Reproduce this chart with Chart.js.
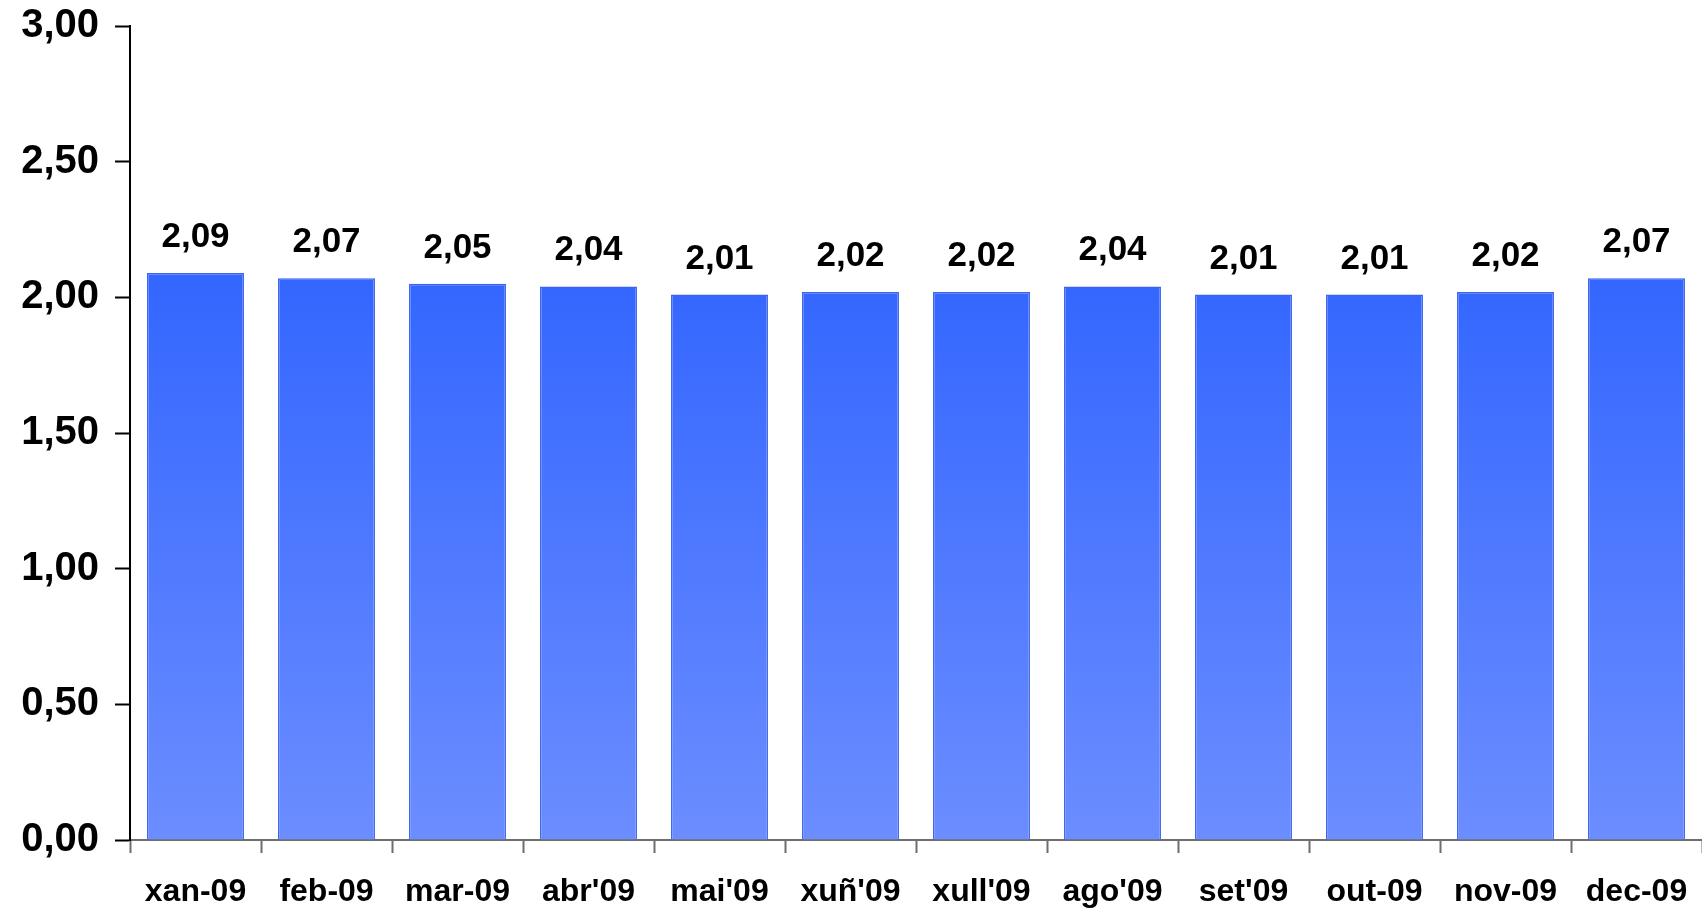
<!DOCTYPE html>
<html>
<head>
<meta charset="utf-8">
<script src="https://cdn.jsdelivr.net/npm/chart.js@4/dist/chart.umd.min.js"></script>
<style>
    html, body { margin: 0; padding: 0; background: #fff; }
    #wrap { width: 1702px; height: 910px; position: relative; }
</style>
</head>
<body>
<div id="wrap"><canvas id="chart" width="1702" height="910"></canvas></div>
<script>
// data
const months = ["xan-09", "feb-09", "mar-09", "abr'09", "mai'09", "xuñ'09", "xull'09", "ago'09", "set'09", "out-09", "nov-09", "dec-09"];
const values = [2.09, 2.07, 2.05, 2.04, 2.01, 2.02, 2.02, 2.04, 2.01, 2.01, 2.02, 2.07];
const yTicks = [0, 0.5, 1, 1.5, 2, 2.5, 3];

const fontFamily = "'Liberation Sans', Arial, sans-serif";

function fmt(v) {
    return v.toFixed(2).replace('.', ',');
}

// bar fill fades from strong blue at top to lighter blue at the base
function barFill(context) {
    const chart = context.chart;
    const area = chart.chartArea;
    if (!area) return '#4a75ff';
    const y = chart.scales.y;
    const g = chart.ctx.createLinearGradient(0, y.getPixelForValue(Math.max(...values)), 0, y.getPixelForValue(0));
    g.addColorStop(0, '#3366ff');
    g.addColorStop(1, '#6b8dff');
    return g;
}

// value labels above each bar
const valueLabels = {
    id: 'valueLabels',
    afterDatasetsDraw(chart) {
        const ctx = chart.ctx;
        const meta = chart.getDatasetMeta(0);
        ctx.save();
        ctx.font = "bold 35px " + fontFamily;
        ctx.fillStyle = '#000';
        ctx.textAlign = 'center';
        ctx.textBaseline = 'alphabetic';
        meta.data.forEach(function(bar, i) {
            ctx.fillText(fmt(values[i]), bar.x, bar.y - 26);
        });
        ctx.restore();
    }
};

const ctx = document.getElementById('chart');
new Chart(ctx, {
    type: 'bar',
    data: {
        labels: months,
        datasets: [{
            data: values,
            backgroundColor: barFill,
            borderColor: '#3a63f2',
            borderWidth: 1.5,
            borderSkipped: 'bottom',
            barPercentage: 0.74,
            categoryPercentage: 1.0
        }]
    },
    options: {
        responsive: false,
        animation: false,
        devicePixelRatio: 1,
        layout: { padding: { top: 26, right: 0, left: 0, bottom: 0 } },
        plugins: {
            legend: { display: false },
            tooltip: { enabled: false }
        },
        scales: {
            x: {
                grid: {
                    offset: true,
                    drawOnChartArea: false,
                    drawTicks: true,
                    tickLength: 13,
                    tickWidth: 2,
                    color: '#6e6e6e'
                },
                border: { color: '#6e6e6e', width: 2 },
                ticks: {
                    color: '#000',
                    padding: 20,
                    maxRotation: 0,
                    autoSkip: false,
                    font: { family: fontFamily, size: 32, weight: 'bold' }
                },
                afterFit(scale) {
                    scale.height = 70;
                    scale.paddingLeft = 0;
                    scale.paddingRight = 0;
                }
            },
            y: {
                min: 0,
                max: 3,
                afterBuildTicks(scale) {
                    scale.ticks = yTicks.map(v => ({ value: v }));
                },
                grid: {
                    drawOnChartArea: false,
                    drawTicks: true,
                    tickLength: 15,
                    tickWidth: 2,
                    color: '#000'
                },
                border: { color: '#000', width: 2 },
                ticks: {
                    color: '#000',
                    padding: 16,
                    callback: v => fmt(v),
                    font: { family: fontFamily, size: 40, weight: 'bold' }
                },
                afterFit(scale) {
                    scale.width = 130;
                    scale.paddingTop = 0;
                    scale.paddingBottom = 0;
                }
            }
        }
    },
    plugins: [valueLabels]
});
</script>
</body>
</html>
